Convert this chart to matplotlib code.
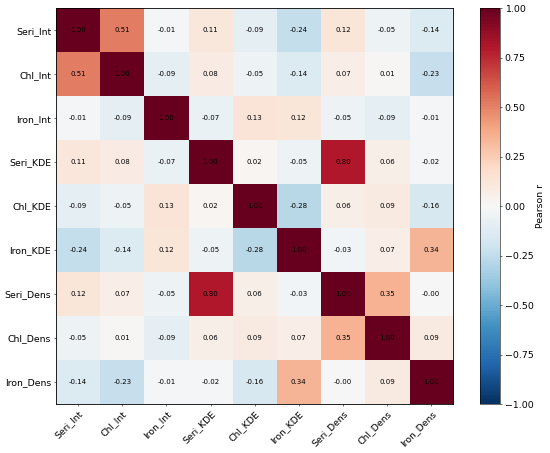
import numpy as np
import matplotlib
matplotlib.use("Agg")
import matplotlib.pyplot as plt

labels = ["Seri_Int", "Chl_Int", "Iron_Int", "Seri_KDE", "Chl_KDE", "Iron_KDE",
          "Seri_Dens", "Chl_Dens", "Iron_Dens"]

row_seri_int = [1.00, 0.51, -0.01, 0.11, -0.09, -0.24, 0.12, -0.05, -0.14]
row_chl_int = [0.51, 1.00, -0.09, 0.08, -0.05, -0.14, 0.07, 0.01, -0.23]
row_iron_int = [-0.01, -0.09, 1.00, -0.07, 0.13, 0.12, -0.05, -0.09, -0.01]
row_seri_kde = [0.11, 0.08, -0.07, 1.00, 0.02, -0.05, 0.80, 0.06, -0.02]
row_chl_kde = [-0.09, -0.05, 0.13, 0.02, 1.00, -0.28, 0.06, 0.09, -0.16]
row_iron_kde = [-0.24, -0.14, 0.12, -0.05, -0.28, 1.00, -0.03, 0.07, 0.34]
row_seri_dens = [0.12, 0.07, -0.05, 0.80, 0.06, -0.03, 1.00, 0.35, -0.001]
row_chl_dens = [-0.05, 0.01, -0.09, 0.06, 0.09, 0.07, 0.35, 1.00, 0.09]
row_iron_dens = [-0.14, -0.23, -0.01, -0.02, -0.16, 0.34, -0.001, 0.09, 1.00]

corr = np.array([row_seri_int, row_chl_int, row_iron_int, row_seri_kde, row_chl_kde,
                 row_iron_kde, row_seri_dens, row_chl_dens, row_iron_dens])

fig = plt.figure(figsize=(11, 9.06), dpi=50)
ax = fig.add_axes([0.102, 0.108, 0.722, 0.874])
cax = fig.add_axes([0.873, 0.108, 0.036, 0.874])

im = ax.imshow(corr, cmap="RdBu_r", vmin=-1, vmax=1, aspect="auto")
n = len(labels)
ax.set_xticks(range(n))
ax.set_yticks(range(n))
ax.set_xticklabels(labels, rotation=45, ha="right", rotation_mode="anchor", fontsize=13.5)
ax.set_yticklabels(labels, fontsize=13.5)
for i in range(n):
    for j in range(n):
        ax.text(j, i, f"{corr[i, j]:.2f}", ha="center", va="center", fontsize=10, color="black")
for s in ax.spines.values():
    s.set_linewidth(1.2)

cb = fig.colorbar(im, cax=cax)
cb.set_label("Pearson r", fontsize=13.5)
cb.ax.tick_params(labelsize=13.5)
cb.set_ticks([-1, -0.75, -0.5, -0.25, 0, 0.25, 0.5, 0.75, 1])

fig.savefig("out.png", dpi=50)
